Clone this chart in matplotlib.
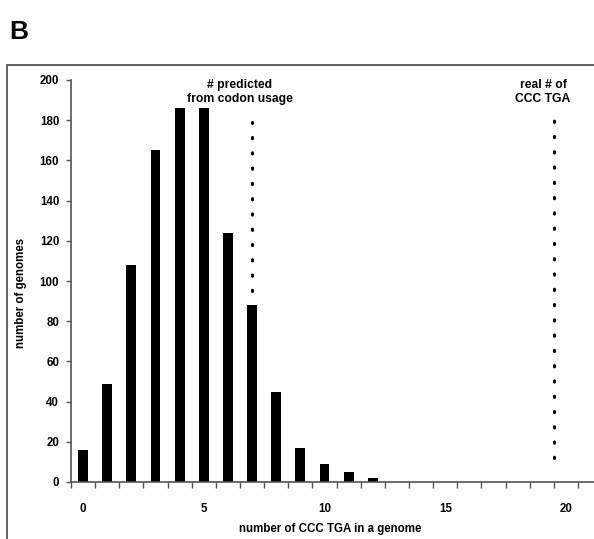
import matplotlib
matplotlib.use('Agg')
import matplotlib.pyplot as plt
from matplotlib.patches import Rectangle

plt.rcParams['font.family'] = ['Liberation Sans', 'DejaVu Sans']
plt.rcParams['font.weight'] = 'bold'

# histogram data
ccc_tga_counts = list(range(13))
n_genomes = [16, 49, 108, 165, 186, 186, 124, 88, 45, 17, 9, 5, 2]

# dotted reference lines: x, y start, y end
ref_x = [7, 19.5]
ref_ymin = [95, 12]
ref_ymax = [179, 180]
ref_labels = ['# predicted\nfrom codon usage', 'real # of\nCCC TGA']
ref_label_x = [6.5, 19.05]

fig = plt.figure(figsize=(5.94, 5.39), dpi=100)
ax = fig.add_axes([71 / 594, 1 - 482 / 539, 1 - 71 / 594, (482 - 80) / 539])

ax.bar(ccc_tga_counts, n_genomes, width=0.41, color='black')

for x, y0, y1 in zip(ref_x, ref_ymin, ref_ymax):
    lc = ax.vlines(x, y0, y1, colors='black', linewidth=2.2,
                   linestyles=(0, (0.4, 4.6)))
    lc.set_capstyle('round')

for x, s in zip(ref_label_x, ref_labels):
    ax.text(x, 194, s, ha='center', va='center', fontsize=8.7,
            fontweight='bold', linespacing=1.15)

ax.set_xlim(-0.5, 21.16)
ax.set_ylim(0, 200)
ax.set_yticks(range(0, 201, 20))
ax.set_xticks([0, 5, 10, 15, 20])
ax.set_xticks([i - 0.5 for i in range(22)], minor=True)
ax.tick_params(axis='x', which='major', length=0, pad=15, labelsize=8.3)
ax.tick_params(axis='x', which='minor', length=4, direction='out',
               color='#555555', width=1)
ax.tick_params(axis='y', length=3.5, direction='out', color='#555555',
               width=1, pad=5, labelsize=8.3)
for lbl in ax.get_xticklabels() + ax.get_yticklabels():
    lbl.set_fontweight('bold')

for side in ['top', 'right']:
    ax.spines[side].set_visible(False)
for side in ['left', 'bottom']:
    ax.spines[side].set_color('#555555')
    ax.spines[side].set_linewidth(1.2)

fig.text(21 / 594, 1 - 293 / 539, 'number of genomes', rotation=90,
         ha='center', va='center', fontsize=8.3, fontweight='bold')
fig.text(330 / 594, 1 - 529 / 539, 'number of CCC TGA in a genome',
         ha='center', va='center', fontsize=8.3, fontweight='bold')
fig.text(19 / 594, 1 - 32 / 539, 'B', ha='center', va='center',
         fontsize=19, fontweight='bold')

# outer panel frame
fig.patches.append(Rectangle((7 / 594, -0.1), 1.2, 0.1 + 1 - 65 / 539,
                             transform=fig.transFigure, fill=False,
                             edgecolor='#555555', linewidth=1.3))

fig.savefig('out.png', dpi=100)
